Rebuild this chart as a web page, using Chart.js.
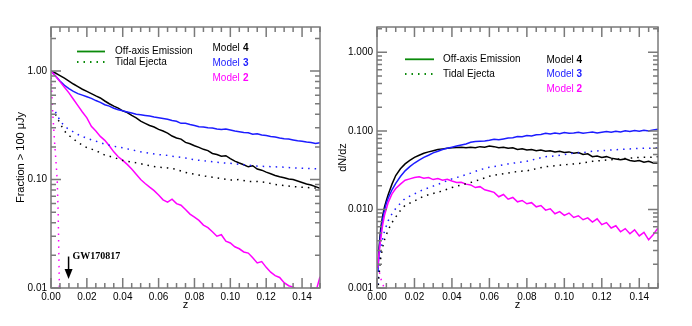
<!DOCTYPE html>
<html>
<head>
<meta charset="utf-8">
<script src="https://cdn.jsdelivr.net/npm/chart.js@4.4.1/dist/chart.umd.min.js"></script>
<style>
body{margin:0;background:#fff;width:692px;height:326px;overflow:hidden;position:relative}
#caixaL{position:absolute;left:0;top:0;width:330px;height:326px}
#caixaR{position:absolute;left:330px;top:0;width:362px;height:326px}
</style>
</head>
<body>
<div id="caixaL"><canvas id="graficoFracao" width="330" height="326"></canvas></div>
<div id="caixaR"><canvas id="graficoDNdz" width="362" height="326"></canvas></div>
<script>

// =============================
// DADOS - painel esquerdo (Fraction > 100 uJy)
// =============================

const zSolidL = [0,0.0025,0.005,0.0075,0.01,0.0125,0.015,0.0175,0.02,0.0225,0.025,0.0275,0.03,0.0325,0.035,0.0375,0.04,0.0425,0.045,0.0475,0.05,0.0525,0.055,0.0575,0.06,0.0625,0.065,0.0675,0.07,0.0725,0.075,0.0775,0.08,0.0825,0.085,0.0875,0.09,0.0925,0.095,0.0975,0.1,0.1025,0.105,0.1075,0.11,0.1125,0.115,0.1175,0.12,0.1225,0.125,0.1275,0.13,0.1325,0.135,0.1375,0.14,0.1425,0.145,0.1475,0.15];

const model4OffL = [1.00,0.96,0.91,0.86,0.81,0.76,0.72,0.68,0.65,0.62,0.59,0.565,0.53,0.50,0.475,0.455,0.43,0.415,0.39,0.37,0.345,0.33,0.315,0.305,0.29,0.28,0.268,0.252,0.242,0.236,0.22,0.214,0.205,0.198,0.19,0.185,0.174,0.17,0.164,0.166,0.156,0.148,0.142,0.137,0.131,0.134,0.125,0.122,0.117,0.113,0.109,0.106,0.104,0.101,0.1,0.097,0.094,0.091,0.089,0.086,0.083];

const model3OffL = [1.0,0.90,0.81,0.74,0.69,0.65,0.62,0.60,0.58,0.56,0.535,0.515,0.49,0.475,0.455,0.44,0.43,0.42,0.41,0.40,0.395,0.39,0.385,0.378,0.372,0.366,0.36,0.35,0.345,0.33,0.33,0.322,0.315,0.307,0.305,0.30,0.298,0.293,0.29,0.292,0.286,0.28,0.276,0.272,0.27,0.262,0.264,0.258,0.255,0.25,0.247,0.242,0.238,0.236,0.232,0.228,0.226,0.222,0.22,0.215,0.218];

const model2OffL = [1.0,0.9,0.8,0.71,0.63,0.55,0.48,0.42,0.37,0.31,0.28,0.25,0.23,0.205,0.18,0.162,0.15,0.138,0.125,0.112,0.1,0.092,0.085,0.079,0.072,0.065,0.062,0.066,0.06,0.058,0.053,0.048,0.045,0.042,0.038,0.036,0.033,0.030,0.031,0.027,0.026,0.024,0.023,0.0215,0.021,0.019,0.017,0.0175,0.0155,0.014,0.013,0.0125,0.0112,0.0105,0.0102,0.0095,0.0092,0.0088,0.0098,0.009,0.0127];

const zTidalL = [0.0025,0.005,0.0075,0.01,0.015,0.02,0.025,0.03,0.035,0.04,0.045,0.05,0.055,0.06,0.065,0.07,0.075,0.08,0.085,0.09,0.095,0.1,0.105,0.11,0.115,0.12,0.125,0.13,0.135,0.14,0.145,0.15];

const model4TidalL = [0.40,0.33,0.28,0.255,0.22,0.197,0.185,0.168,0.16,0.15,0.145,0.14,0.134,0.13,0.128,0.124,0.116,0.112,0.108,0.105,0.102,0.099,0.1,0.096,0.096,0.094,0.09,0.088,0.086,0.085,0.084,0.083];

const model3TidalL = [0.42,0.35,0.31,0.29,0.26,0.24,0.226,0.212,0.203,0.196,0.188,0.18,0.175,0.17,0.167,0.162,0.158,0.152,0.149,0.146,0.143,0.141,0.138,0.136,0.133,0.132,0.131,0.13,0.128,0.127,0.126,0.125];

const zTidal2L = [0,0.0005,0.001,0.0015,0.002,0.0025,0.003,0.0035,0.004,0.0045,0.005];
const model2TidalL = [1.0,0.6,0.4,0.3,0.22,0.17,0.13,0.095,0.05,0.015,0.005];

// =============================
// DADOS - painel direito (dN/dz)
// =============================

const zSolidR = [0.0005,0.001,0.0015,0.002,0.003,0.004,0.005,0.006,0.008,0.01,0.0125,0.015,0.0175,0.02,0.0225,0.025,0.0275,0.03,0.0325,0.035,0.0375,0.04,0.0425,0.045,0.0475,0.05,0.0525,0.055,0.0575,0.06,0.0625,0.065,0.0675,0.07,0.0725,0.075,0.0775,0.08,0.0825,0.085,0.0875,0.09,0.0925,0.095,0.0975,0.1,0.1025,0.105,0.1075,0.11,0.1125,0.115,0.1175,0.12,0.1225,0.125,0.1275,0.13,0.1325,0.135,0.1375,0.14,0.1425,0.145,0.1475,0.15];

const model4OffR = [0.0018,0.003,0.0043,0.0058,0.0083,0.0108,0.013,0.0155,0.021,0.027,0.033,0.038,0.042,0.046,0.049,0.052,0.054,0.056,0.058,0.059,0.06,0.061,0.0615,0.062,0.061,0.062,0.061,0.063,0.062,0.064,0.063,0.061,0.062,0.06,0.061,0.058,0.059,0.057,0.058,0.056,0.057,0.055,0.056,0.054,0.055,0.053,0.054,0.052,0.053,0.05,0.051,0.047,0.048,0.046,0.047,0.045,0.044,0.043,0.044,0.042,0.041,0.042,0.04,0.041,0.039,0.039];

const model3OffR = [0.0016,0.0027,0.0038,0.005,0.0075,0.0098,0.012,0.014,0.0178,0.0215,0.0262,0.031,0.035,0.039,0.0425,0.046,0.049,0.0525,0.055,0.058,0.06,0.062,0.064,0.066,0.068,0.0715,0.073,0.074,0.0745,0.076,0.078,0.077,0.079,0.081,0.082,0.085,0.084,0.087,0.086,0.089,0.09,0.093,0.091,0.094,0.092,0.095,0.093,0.094,0.096,0.093,0.095,0.097,0.094,0.096,0.098,0.096,0.099,0.097,0.1,0.098,0.101,0.099,0.102,0.1,0.103,0.105];

const model2OffR = [0.0019,0.0026,0.0034,0.0042,0.0063,0.0084,0.0102,0.0123,0.0158,0.0185,0.021,0.0235,0.0245,0.0255,0.026,0.025,0.0255,0.024,0.0248,0.0236,0.0242,0.023,0.022,0.0222,0.021,0.0205,0.019,0.0195,0.0178,0.0172,0.0165,0.0145,0.0155,0.0135,0.0142,0.0125,0.013,0.0118,0.0122,0.0108,0.0112,0.0098,0.0102,0.0088,0.0094,0.0084,0.009,0.0079,0.0083,0.0074,0.0078,0.0069,0.0076,0.0064,0.0068,0.0058,0.0062,0.0052,0.0057,0.0049,0.0055,0.0046,0.0051,0.0041,0.0048,0.0058];

const zTidalR = [0.0005,0.001,0.002,0.003,0.004,0.006,0.008,0.01,0.0125,0.015,0.02,0.025,0.03,0.035,0.04,0.045,0.05,0.055,0.06,0.065,0.07,0.075,0.08,0.085,0.09,0.095,0.1,0.105,0.11,0.115,0.12,0.125,0.13,0.135,0.14,0.145,0.15];

const model4TidalR = [0.0009,0.0014,0.0024,0.0033,0.0041,0.0055,0.0068,0.008,0.0097,0.0113,0.0128,0.0148,0.016,0.0172,0.019,0.0205,0.022,0.024,0.0265,0.028,0.029,0.0305,0.031,0.033,0.035,0.036,0.037,0.038,0.039,0.041,0.042,0.043,0.044,0.045,0.046,0.046,0.047];

const model3TidalR = [0.0011,0.0018,0.003,0.0042,0.0053,0.0072,0.0088,0.0103,0.012,0.0138,0.0158,0.018,0.0198,0.022,0.0245,0.0265,0.029,0.032,0.0345,0.036,0.038,0.0395,0.041,0.044,0.047,0.048,0.05,0.052,0.053,0.055,0.056,0.057,0.058,0.059,0.06,0.06,0.061];

const zTidal2R = [0.0005,0.0015,0.0025,0.0033,0.004];
const model2TidalR = [0.0019,0.0015,0.0012,0.0011,0.0009];

// ticks
const xTicks = [0,0.02,0.04,0.06,0.08,0.10,0.12,0.14];
const yTicksL = [0.01,0.1,1];
const yTicksR = [0.001,0.01,0.1,1];

// =============================
// ESTILO
// =============================

const corPreto = "#000000";
const corAzul = "#1c1cff";
const corMagenta = "#ff00ff";
const corVerde = "#0a8a0a";
const tracoPontilhado = [1.5,5];
const fonteNarrow = '"Liberation Sans Narrow", "Arial Narrow", "Liberation Sans", sans-serif';
const fonteNormal = '"Liberation Sans", Arial, sans-serif';

Chart.defaults.color = "#000";
Chart.defaults.font.family = fonteNarrow;

function pontos(zs, vs){
return zs.map((z,i)=>({x:z, y:vs[i]}));
}

function serie(zs, vs, cor, pontilhado){
return {
data: pontos(zs, vs),
borderColor: cor,
backgroundColor: cor,
borderWidth: 1.5,
borderDash: pontilhado ? tracoPontilhado : [],
pointRadius: 0,
tension: 0,
fill: false
};
}

// moldura com ticks para dentro (estilo ROOT), legenda e anotacao
const molduraPlugin = {
id: "moldura",
afterDraw(chart, args, opts){

const ctx = chart.ctx;
const {left, right, top, bottom} = chart.chartArea;
const xs = chart.scales.x;
const ys = chart.scales.y;

ctx.save();
ctx.strokeStyle = "#7a7a7a";
ctx.lineWidth = 1.5;
ctx.setLineDash([]);
ctx.strokeRect(left, top, right-left, bottom-top);

ctx.beginPath();
for(let i=0;i<=30;i++){
const px = xs.getPixelForValue(i*0.005);
const len = i%4===0 ? 10 : 5;
ctx.moveTo(px, bottom); ctx.lineTo(px, bottom-len);
ctx.moveTo(px, top); ctx.lineTo(px, top+len);
}
const e0 = Math.floor(Math.log10(ys.min));
const e1 = Math.ceil(Math.log10(ys.max));
for(let e=e0;e<=e1;e++){
for(let m=1;m<=9;m++){
const v = m*Math.pow(10,e);
if(v < ys.min*0.999 || v > ys.max) continue;
const py = ys.getPixelForValue(v);
const len = m===1 ? 10 : 5;
ctx.moveTo(left, py); ctx.lineTo(left+len, py);
ctx.moveTo(right, py); ctx.lineTo(right-len, py);
}
}
ctx.stroke();

// legenda
const leg = opts.legenda;
ctx.lineWidth = 1.8;
ctx.strokeStyle = corVerde;
ctx.beginPath(); ctx.moveTo(leg.x0, leg.y1); ctx.lineTo(leg.x1, leg.y1); ctx.stroke();
ctx.setLineDash(tracoPontilhado);
ctx.beginPath(); ctx.moveTo(leg.x0, leg.y2); ctx.lineTo(leg.x1, leg.y2); ctx.stroke();
ctx.setLineDash([]);

ctx.font = "10px " + fonteNarrow;
ctx.textBaseline = "middle";
ctx.textAlign = "left";
ctx.fillStyle = "#000";
ctx.fillText("Off-axis Emission", leg.xt, leg.y1);
ctx.fillText("Tidal Ejecta", leg.xt, leg.y2);

const modelos = [["4", corPreto],["3", corAzul],["2", corMagenta]];
modelos.forEach((m,i)=>{
const y = leg.ym + i*leg.dy;
ctx.fillStyle = m[1];
ctx.font = "10px " + fonteNarrow;
ctx.fillText("Model", leg.xm, y);
ctx.font = "bold 10px " + fonteNarrow;
ctx.fillText(m[0], leg.xn, y);
});

// seta GW170817
if(opts.gw){
const g = opts.gw;
const px = xs.getPixelForValue(g.z);
const pTop = ys.getPixelForValue(g.yTop);
const pTip = ys.getPixelForValue(g.yTip);
ctx.strokeStyle = "#000";
ctx.fillStyle = "#000";
ctx.lineWidth = 1.5;
ctx.beginPath(); ctx.moveTo(px, pTop); ctx.lineTo(px, pTip-9); ctx.stroke();
ctx.beginPath();
ctx.moveTo(px-4, pTip-10); ctx.lineTo(px+4, pTip-10); ctx.lineTo(px, pTip);
ctx.closePath(); ctx.fill();
ctx.font = 'bold 10px "Liberation Serif", "Times New Roman", serif';
ctx.textBaseline = "middle";
ctx.fillText(g.texto, px+4, pTop);
}

ctx.restore();
}
};

function opcoes(yMin, yMax, yTicks, casas, larguraY, padDir, tituloY, padTitulo, legenda, gw){
return {
responsive: false,
animation: false,
layout: {padding: {top: 27, right: padDir, left: 0, bottom: 0}},
plugins: {
legend: {display: false},
tooltip: {enabled: false},
moldura: {legenda: legenda, gw: gw}
},
scales: {
x: {
type: "linear",
min: 0,
max: 0.15,
afterBuildTicks: s => { s.ticks = xTicks.map(v=>({value:v})); },
afterFit: s => { s.height = 38; },
ticks: {
callback: v => v.toFixed(2),
font: {size: 10},
color: "#000",
padding: 3,
maxRotation: 0,
autoSkip: false
},
grid: {display: false, drawTicks: false},
border: {display: false},
title: {display: true, text: "z", font: {size: 11, family: fonteNormal}, padding: {top: 0, bottom: 14}}
},
y: {
type: "logarithmic",
min: yMin,
max: yMax,
afterBuildTicks: s => { s.ticks = yTicks.map(v=>({value:v})); },
afterFit: s => { s.width = larguraY; },
ticks: {
callback: v => Number(v).toFixed(casas),
font: {size: 10},
color: "#000",
padding: 4,
autoSkip: false
},
grid: {display: false, drawTicks: false},
border: {display: false},
title: {display: true, text: tituloY, font: {size: 11, family: fonteNormal}, padding: {top: padTitulo, bottom: 0}}
}
}
};
}

// =============================
// GRAFICO ESQUERDO
// =============================

new Chart(document.getElementById("graficoFracao").getContext("2d"), {
type: "line",
data: {
datasets: [
serie(zTidalL, model4TidalL, corPreto, true),
serie(zTidalL, model3TidalL, corAzul, true),
serie(zTidal2L, model2TidalL, corMagenta, true),
serie(zSolidL, model2OffL, corMagenta, false),
serie(zSolidL, model3OffL, corAzul, false),
serie(zSolidL, model4OffL, corPreto, false)
]
},
options: opcoes(0.01, 2.55, yTicksL, 2, 51, 10, "Fraction > 100 \u03bcJy", 14,
{x0: 77, x1: 105, xt: 115, y1: 51.5, y2: 62, xm: 212.5, xn: 243, ym: 47.8, dy: 15},
{z: 0.0098, yTop: 0.0195, yTip: 0.0121, texto: "GW170817"}),
plugins: [molduraPlugin]
});

// =============================
// GRAFICO DIREITO
// =============================

new Chart(document.getElementById("graficoDNdz").getContext("2d"), {
type: "line",
data: {
datasets: [
serie(zTidalR, model4TidalR, corPreto, true),
serie(zTidalR, model3TidalR, corAzul, true),
serie(zTidal2R, model2TidalR, corMagenta, true),
serie(zSolidR, model2OffR, corMagenta, false),
serie(zSolidR, model3OffR, corAzul, false),
serie(zSolidR, model4OffR, corPreto, false)
]
},
options: opcoes(0.001, 2.1, yTicksR, 3, 47, 34, "dN/dz", 6,
{x0: 75, x1: 104, xt: 113, y1: 59.3, y2: 74, xm: 216.5, xn: 246.5, ym: 60, dy: 14.5},
null),
plugins: [molduraPlugin]
});

</script>
</body>
</html>
